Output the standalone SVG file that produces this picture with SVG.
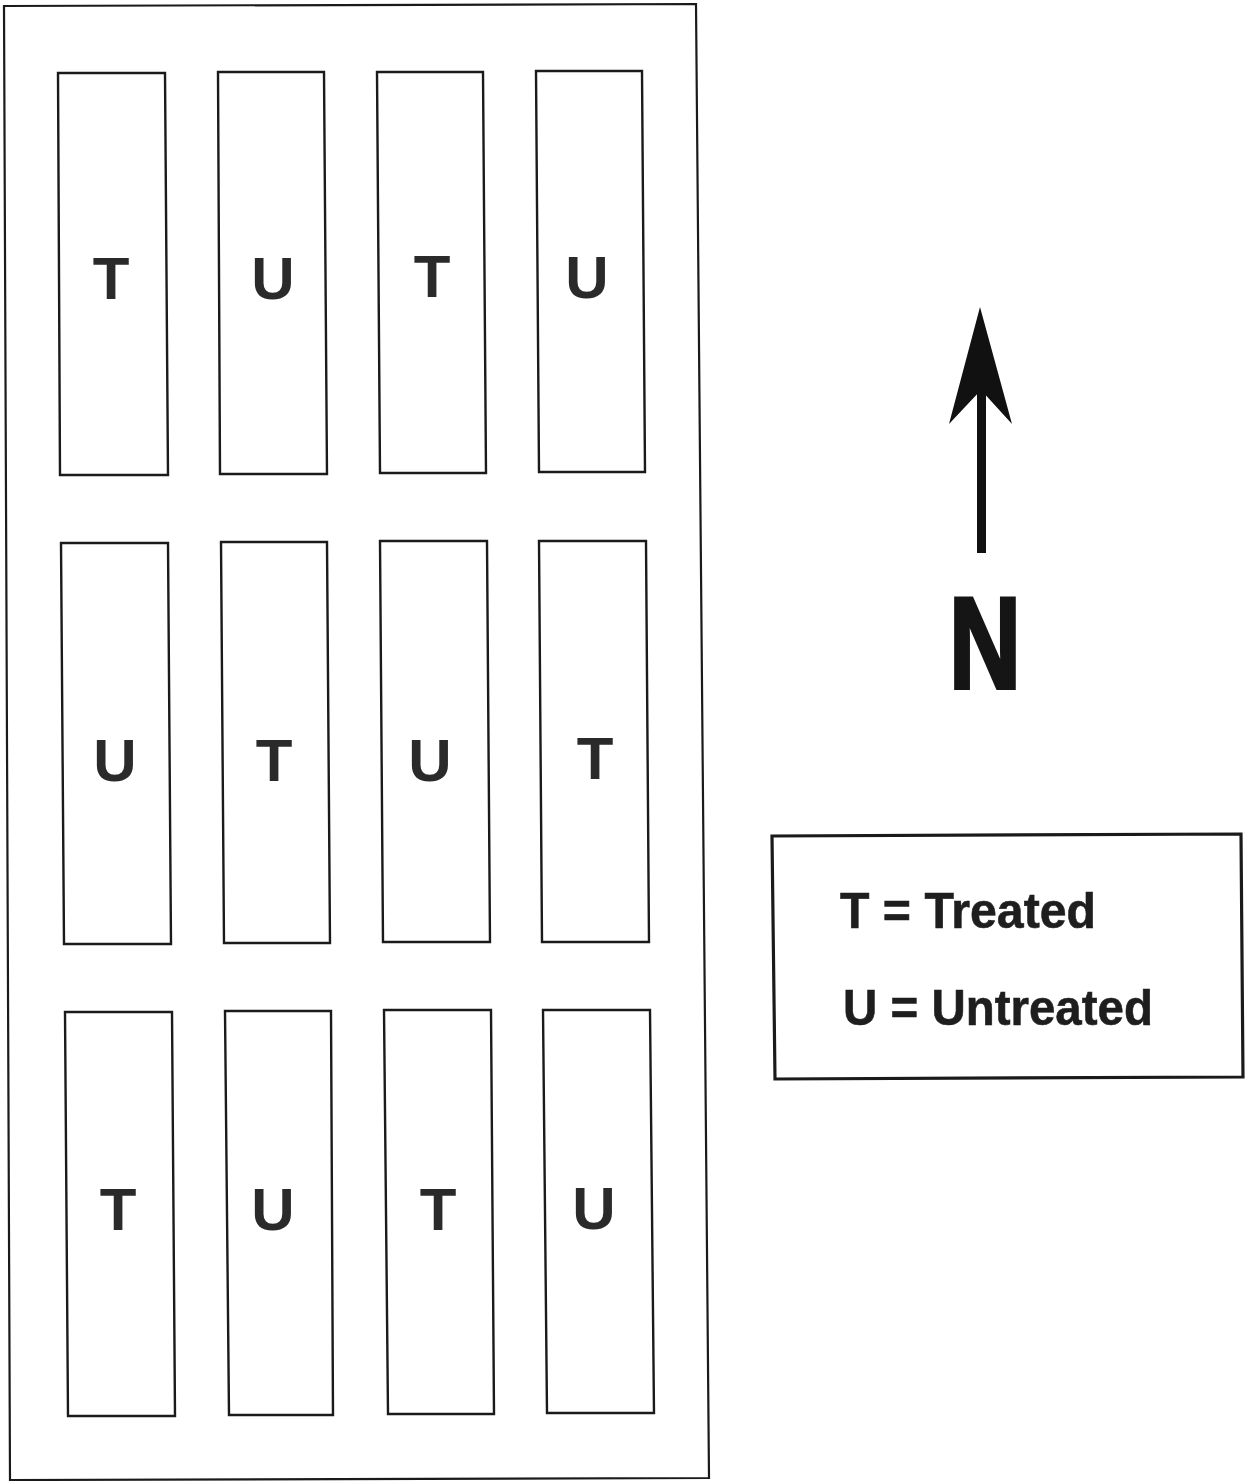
<svg xmlns="http://www.w3.org/2000/svg" width="1249" height="1481" viewBox="0 0 1249 1481">
<style>
.frame{fill:none;stroke:#1a1a1a;stroke-width:2.2;stroke-linejoin:miter}
.plot{fill:#fff;stroke:#1a1a1a;stroke-width:2.4}
.lbl{font-family:"Liberation Sans",Arial,sans-serif;font-weight:bold;font-size:60px;fill:#2a2a2a;text-anchor:middle}
.leg{font-family:"Liberation Sans",Arial,sans-serif;font-weight:bold;font-size:50px;fill:#1e1e1e;stroke:#1e1e1e;stroke-width:0.6}
</style>
<rect width="1249" height="1481" fill="#fff"/>
<polygon id="field" class="frame" points="4,6 696,4 709,1478 10,1480"/>
<g id="plot-r1c1"><polygon class="plot" points="58,73 165,73 168,475 60,475"/><text class="lbl" x="111" y="299">T</text></g>
<g id="plot-r1c2"><polygon class="plot" points="218,72 324,72 327,474 220,474"/><text class="lbl" x="273" y="299">U</text></g>
<g id="plot-r1c3"><polygon class="plot" points="377,72 483,72 486,473 380,473"/><text class="lbl" x="432" y="297">T</text></g>
<g id="plot-r1c4"><polygon class="plot" points="536,71 642,71 645,472 539,472"/><text class="lbl" x="587" y="298">U</text></g>
<g id="plot-r2c1"><polygon class="plot" points="61,543 168,543 171,944 64,944"/><text class="lbl" x="115" y="781">U</text></g>
<g id="plot-r2c2"><polygon class="plot" points="221,542 327,542 330,943 224,943"/><text class="lbl" x="274" y="781">T</text></g>
<g id="plot-r2c3"><polygon class="plot" points="380,541 487,541 490,942 383,942"/><text class="lbl" x="430" y="781">U</text></g>
<g id="plot-r2c4"><polygon class="plot" points="539,541 646,541 649,942 542,942"/><text class="lbl" x="595" y="779">T</text></g>
<g id="plot-r3c1"><polygon class="plot" points="65,1012 172,1012 175,1416 68,1416"/><text class="lbl" x="118" y="1230">T</text></g>
<g id="plot-r3c2"><polygon class="plot" points="225,1011 331,1011 333,1415 229,1415"/><text class="lbl" x="273" y="1230">U</text></g>
<g id="plot-r3c3"><polygon class="plot" points="384,1010 491,1010 494,1414 388,1414"/><text class="lbl" x="438" y="1230">T</text></g>
<g id="plot-r3c4"><polygon class="plot" points="543,1010 650,1010 654,1413 547,1413"/><text class="lbl" x="594" y="1229">U</text></g>
<g id="north-arrow">
<rect x="977" y="385" width="9" height="168" fill="#111"/>
<polygon points="980,307 1012,424 981,390 949,424" fill="#111"/>
<text x="985" y="688" font-family="'Liberation Sans',Arial,sans-serif" font-weight="bold" font-size="130" fill="#151515" stroke="#151515" stroke-width="4" text-anchor="middle" textLength="72" lengthAdjust="spacingAndGlyphs">N</text>
</g>
<g id="legend">
<polygon points="772,836 1241,834 1243,1077 775,1079" fill="none" stroke="#1a1a1a" stroke-width="3.2"/>
<text class="leg" x="840" y="928" textLength="256" lengthAdjust="spacingAndGlyphs">T = Treated</text>
<text class="leg" x="843" y="1025" textLength="310" lengthAdjust="spacingAndGlyphs">U = Untreated</text>
</g>
</svg>
